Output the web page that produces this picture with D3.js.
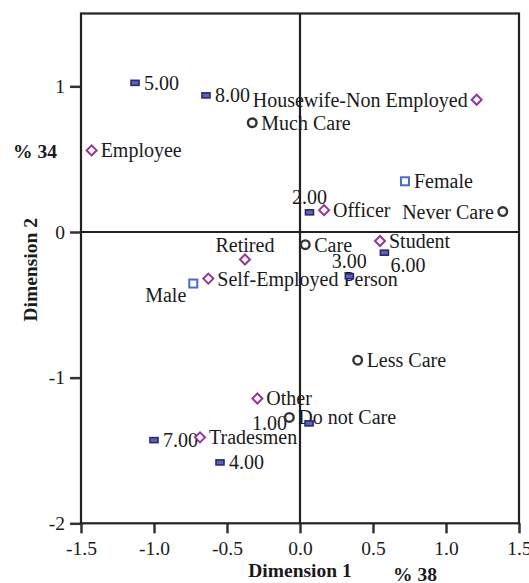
<!DOCTYPE html>
<html>
<head>
<meta charset="utf-8">
<script src="https://cdn.jsdelivr.net/npm/d3@7"></script>
<style>
  body { margin: 0; background: #fff; }
  svg { display: block; }
  text { font-family: "Liberation Serif", "Times New Roman", serif; fill: #1a1a1a; }
</style>
</head>
<body>
<svg id="chart" width="529" height="583"></svg>
<script>
// ---- data ----
const numberLabels = ["1.00", "2.00", "3.00", "4.00", "5.00", "6.00", "7.00", "8.00"];
const numberDim1   = [0.062, 0.065, 0.338, -0.548, -1.130, 0.578, -1.000, -0.644];
const numberDim2   = [-1.314, 0.135, -0.304, -1.582, 1.024, -0.142, -1.429, 0.938];

const genderLabels = ["Male", "Female"];
const genderDim1   = [-0.731, 0.719];
const genderDim2   = [-0.354, 0.348];

const jobLabels = ["Employee", "Officer", "Housewife-Non Employed", "Student", "Retired", "Self-Employed Person", "Other", "Tradesmen"];
const jobDim1   = [-1.427, 0.165, 1.210, 0.548, -0.377, -0.628, -0.292, -0.685];
const jobDim2   = [0.560, 0.150, 0.908, -0.062, -0.189, -0.320, -1.143, -1.410];

const careLabels = ["Much Care", "Never Care", "Care", "Less Care", "Do not Care"];
const careDim1   = [-0.327, 1.389, 0.036, 0.395, -0.073];
const careDim2   = [0.750, 0.140, -0.087, -0.880, -1.273];

const xTicks = [-1.5, -1.0, -0.5, 0.0, 0.5, 1.0, 1.5];
const yTicks = [1, 0, -1, -2];
const xTitle = "Dimension 1", yTitle = "Dimension 2";
const xInertia = "% 38", yInertia = "% 34";

// label placement (where the text sits relative to its marker)
const numberPlace = ["farleft", "above", "above", "right", "right", "belowright", "right", "right"];
const genderPlace = ["belowleft", "right"];
const jobPlace    = ["right", "right", "left", "right", "above", "right", "right", "right"];
const carePlace   = ["right", "left", "right", "right", "right"];

// ---- chart ----
const svg = d3.select("#chart");
const x = d3.scaleLinear().domain([-1.5, 1.5]).range([81, 519]);
const y = d3.scaleLinear().domain([-2, 1.5]).range([523.3, 13.5]);
const hy = s => s.replace("−", "-");

// axes
const gx = svg.append("g").attr("transform", `translate(0,${y(-2)})`)
  .call(d3.axisBottom(x).tickValues(xTicks).tickSize(10).tickPadding(8).tickFormat(d => hy(d3.format(".1f")(d))));
const gy = svg.append("g").attr("transform", `translate(${x(-1.5)},0)`)
  .call(d3.axisLeft(y).tickValues(yTicks).tickSize(11).tickPadding(5).tickFormat(d => hy(d3.format("d")(d))));
[gx, gy].forEach(g => {
  g.select(".domain").remove();
  g.selectAll(".tick line").attr("stroke", "#333").attr("stroke-width", 2.5);
  g.selectAll(".tick text").style("font-family", "Liberation Serif").style("font-size", "19.5px").attr("fill", "#1a1a1a");
});

// frame and zero lines
const frame = svg.append("g").attr("stroke", "#222").attr("stroke-width", 2.2).attr("fill", "none");
frame.append("rect").attr("x", x(-1.5)).attr("y", y(1.5)).attr("width", x(1.5) - x(-1.5)).attr("height", y(-2) - y(1.5));
frame.append("line").attr("x1", x(-1.5)).attr("x2", x(1.5)).attr("y1", y(0)).attr("y2", y(0));
frame.append("line").attr("x1", x(0)).attr("x2", x(0)).attr("y1", y(1.5)).attr("y2", y(-2));

// titles
svg.append("text").attr("x", x(0)).attr("y", 577).attr("text-anchor", "middle")
  .style("font-size", "19.5px").style("font-weight", "bold").text(xTitle);
svg.append("text").attr("x", 393).attr("y", 581)
  .style("font-size", "19.5px").style("font-weight", "bold").text(xInertia);
svg.append("text").attr("transform", `translate(37,${y(-0.26)}) rotate(-90)`).attr("text-anchor", "middle")
  .style("font-size", "19.5px").style("font-weight", "bold").text(yTitle);
svg.append("text").attr("x", 13).attr("y", 158)
  .style("font-size", "19.5px").style("font-weight", "bold").text(yInertia);

function build(labels, d1, d2, place) {
  return labels.map((l, i) => ({ label: l, px: x(d1[i]), py: y(d2[i]), place: place[i] }));
}
const numbers = build(numberLabels, numberDim1, numberDim2, numberPlace);
const genders = build(genderLabels, genderDim1, genderDim2, genderPlace);
const jobs    = build(jobLabels, jobDim1, jobDim2, jobPlace);
const cares   = build(careLabels, careDim1, careDim2, carePlace);

const labelLayer = svg.append("g").style("font-size", "20px");
function addLabels(data) {
  labelLayer.selectAll(null).data(data).enter().append("text")
    .attr("x", d => ({ right: d.px + 9, left: d.px - 9, above: d.px, belowright: d.px + 6, belowleft: d.px - 7, farleft: d.px - 22 })[d.place])
    .attr("y", d => ({ right: d.py + 7, left: d.py + 7, above: d.py - 8, belowright: d.py + 19, belowleft: d.py + 18, farleft: d.py + 7 })[d.place])
    .attr("text-anchor", d => ({ right: "start", left: "end", above: "middle", belowright: "start", belowleft: "end", farleft: "end" })[d.place])
    .text(d => d.label);
}
addLabels(numbers); addLabels(genders); addLabels(jobs); addLabels(cares);

// markers
const marks = svg.append("g");
marks.selectAll(null).data(numbers).enter().append("rect")
  .attr("x", d => d.px - 4).attr("y", d => d.py - 2.5).attr("width", 8).attr("height", 5)
  .attr("fill", "#6262b0").attr("stroke", "#26287a").attr("stroke-width", 1.6);
marks.selectAll(null).data(genders).enter().append("rect")
  .attr("x", d => d.px - 4).attr("y", d => d.py - 4).attr("width", 8).attr("height", 8)
  .attr("fill", "#fff").attr("stroke", "#4a6cc8").attr("stroke-width", 2);
marks.selectAll(null).data(jobs).enter().append("path")
  .attr("d", d => `M${d.px},${d.py - 5}L${d.px + 5},${d.py}L${d.px},${d.py + 5}L${d.px - 5},${d.py}Z`)
  .attr("fill", "#fff").attr("stroke", "#993399").attr("stroke-width", 2);
marks.selectAll(null).data(cares).enter().append("circle")
  .attr("cx", d => d.px).attr("cy", d => d.py).attr("r", 4.3)
  .attr("fill", "#fff").attr("stroke", "#333").attr("stroke-width", 2.4);
</script>
</body>
</html>
